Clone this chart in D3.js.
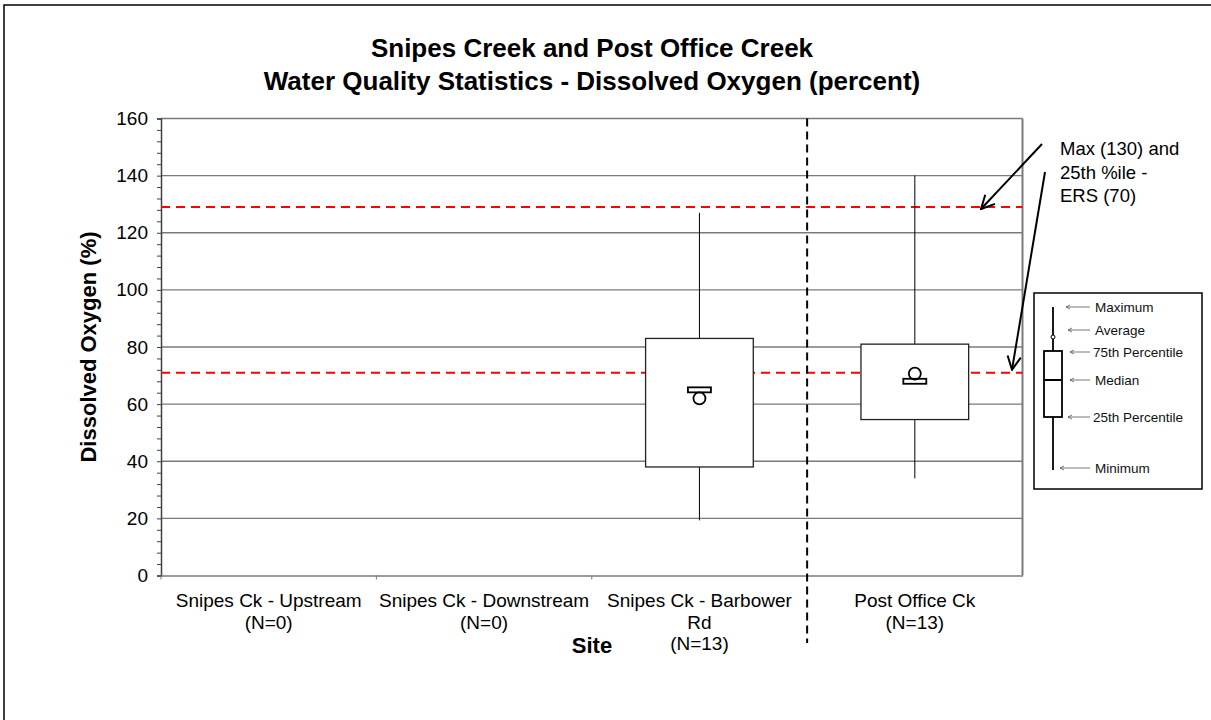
<!DOCTYPE html>
<html>
<head>
<meta charset="utf-8">
<script src="https://cdn.jsdelivr.net/npm/d3@7"></script>
<style>
  body { margin: 0; background: #fff; }
  svg { font-family: Arial, "Liberation Sans", sans-serif; }
</style>
</head>
<body>
<div id="chart"></div>
<script>
// site labels (each entry = lines of the tick label)
const sites = ["Upstream", "Downstream", "Barbower", "PostOffice"];
const siteLabels = [
  ["Snipes Ck - Upstream", "(N=0)"],
  ["Snipes Ck - Downstream", "(N=0)"],
  ["Snipes Ck - Barbower", "Rd", "(N=13)"],
  ["Post Office Ck", "(N=13)"]
];
// box statistics per site (null = no data)
const maxVals = [null, null, 127, 140];
const q3Vals = [null, null, 83, 81];
const medianVals = [null, null, 65, 68];
const meanVals = [null, null, 62, 70.7];
const q1Vals = [null, null, 38, 54.6];
const minVals = [null, null, 19.3, 34];
// reference lines
const thresholds = [129, 71];
const yTicks = [0, 20, 40, 60, 80, 100, 120, 140, 160];
const legendLabels = ["Maximum", "Average", "75th Percentile", "Median", "25th Percentile", "Minimum"];
const annotationLines = ["Max (130) and", "25th %ile -", "ERS (70)"];

const width = 1211, height = 720;
const plot = { left: 161, right: 1022.5, top: 118.5, bottom: 575.5 };

const svg = d3.select('#chart').append('svg')
  .attr('width', width)
  .attr('height', height);

// outer chart border
svg.append('rect')
  .attr('x', 4).attr('y', 5)
  .attr('width', width).attr('height', height)
  .attr('fill', 'none').attr('stroke', '#000').attr('stroke-width', 1.5);

const x = d3.scaleBand().domain(sites).range([plot.left, plot.right]).padding(0);
const y = d3.scaleLinear().domain([0, 160]).range([plot.bottom, plot.top]);

// gridlines
svg.append('g')
  .selectAll('line')
  .data(yTicks.filter(d => d > 0))
  .enter().append('line')
  .attr('x1', plot.left).attr('x2', plot.right)
  .attr('y1', d => y(d)).attr('y2', d => y(d))
  .attr('stroke', '#7a7a7a').attr('stroke-width', 1.3);

// right plot border
svg.append('line')
  .attr('x1', plot.right).attr('x2', plot.right)
  .attr('y1', plot.top).attr('y2', plot.bottom)
  .attr('stroke', '#7a7a7a').attr('stroke-width', 2);

// y axis
const yAxis = d3.axisLeft(y)
  .tickValues(d3.range(0, 161, 4))
  .tickSize(4)
  .tickFormat(d => yTicks.includes(d) ? d : '');
const yg = svg.append('g')
  .attr('transform', `translate(${plot.left},0)`)
  .call(yAxis);
yg.select('.domain').attr('stroke', '#404040').attr('stroke-width', 1.5);
yg.selectAll('.tick line').attr('stroke', '#404040');
yg.selectAll('.tick text')
  .attr('x', -13)
  .attr('font-size', 19)
  .attr('font-family', 'Arial, "Liberation Sans", sans-serif')
  .attr('fill', '#000');

// x axis
const xAxis = d3.axisBottom(x).tickSize(0).tickFormat('');
const xg = svg.append('g')
  .attr('transform', `translate(0,${plot.bottom})`)
  .call(xAxis);
xg.select('.domain').attr('stroke', '#7a7a7a').attr('stroke-width', 1.5);
xg.selectAll('.sep')
  .data([plot.left, ...sites.slice(1).map(s => x(s))])
  .enter().append('line')
  .attr('x1', d => d).attr('x2', d => d)
  .attr('y1', 0).attr('y2', 4)
  .attr('stroke', '#7a7a7a');

// x tick labels
sites.forEach((s, i) => {
  const t = svg.append('text')
    .attr('text-anchor', 'middle')
    .attr('font-size', 19)
    .attr('fill', '#000');
  siteLabels[i].forEach((line, j) => {
    t.append('tspan')
      .attr('x', x(s) + x.bandwidth() / 2)
      .attr('y', 607 + j * 21.5)
      .text(line);
  });
});

// threshold lines
svg.append('g')
  .selectAll('line')
  .data(thresholds)
  .enter().append('line')
  .attr('x1', plot.left).attr('x2', plot.right)
  .attr('y1', d => y(d)).attr('y2', d => y(d))
  .attr('stroke', '#ff0000').attr('stroke-width', 2)
  .attr('stroke-dasharray', '9,6');

// divider between creeks
svg.append('line')
  .attr('x1', x('PostOffice')).attr('x2', x('PostOffice'))
  .attr('y1', plot.top).attr('y2', 643)
  .attr('stroke', '#000').attr('stroke-width', 2)
  .attr('stroke-dasharray', '8,5');

// boxes
const boxW = x.bandwidth() * 0.5;
const boxes = sites.map((s, i) => ({
  site: s, max: maxVals[i], q3: q3Vals[i], median: medianVals[i],
  mean: meanVals[i], q1: q1Vals[i], min: minVals[i]
})).filter(d => d.max !== null);

const bg = svg.append('g').selectAll('g')
  .data(boxes)
  .enter().append('g')
  .attr('transform', d => `translate(${x(d.site) + x.bandwidth() / 2},0)`);

bg.append('line')
  .attr('x1', 0).attr('x2', 0)
  .attr('y1', d => y(d.max)).attr('y2', d => y(d.min))
  .attr('stroke', '#000').attr('stroke-width', 1);

bg.append('rect')
  .attr('x', -boxW / 2)
  .attr('y', d => y(d.q3))
  .attr('width', boxW)
  .attr('height', d => y(d.q1) - y(d.q3))
  .attr('fill', '#fff')
  .attr('stroke', '#222').attr('stroke-width', 1.3);

bg.append('rect')
  .attr('x', -11.5)
  .attr('y', d => y(d.median) - 2.5)
  .attr('width', 23).attr('height', 5)
  .attr('fill', '#fff')
  .attr('stroke', '#000').attr('stroke-width', 1.8);

bg.append('circle')
  .attr('cx', 0)
  .attr('cy', d => y(d.mean))
  .attr('r', 6)
  .attr('fill', 'none')
  .attr('stroke', '#000').attr('stroke-width', 1.8);

// titles
svg.append('text')
  .attr('x', 592).attr('y', 57)
  .attr('text-anchor', 'middle')
  .attr('font-size', 26).attr('font-weight', 'bold')
  .text('Snipes Creek and Post Office Creek');
svg.append('text')
  .attr('x', 592).attr('y', 90)
  .attr('text-anchor', 'middle')
  .attr('font-size', 26).attr('font-weight', 'bold')
  .text('Water Quality Statistics - Dissolved Oxygen (percent)');

svg.append('text')
  .attr('transform', `translate(96,${(plot.top + plot.bottom) / 2}) rotate(-90)`)
  .attr('text-anchor', 'middle')
  .attr('font-size', 22).attr('font-weight', 'bold')
  .text('Dissolved Oxygen (%)');

svg.append('text')
  .attr('x', 592).attr('y', 653)
  .attr('text-anchor', 'middle')
  .attr('font-size', 22).attr('font-weight', 'bold')
  .text('Site');

// annotation
const defs = svg.append('defs');
defs.append('marker')
  .attr('id', 'open-arrow')
  .attr('viewBox', '0 0 12 12')
  .attr('refX', 11).attr('refY', 6)
  .attr('markerWidth', 16).attr('markerHeight', 16)
  .attr('markerUnits', 'userSpaceOnUse')
  .attr('orient', 'auto')
  .append('path')
  .attr('d', 'M1,1 L11,6 L1,11')
  .attr('fill', 'none').attr('stroke', '#000').attr('stroke-width', 1.5);

const ann = svg.append('text')
  .attr('font-size', 18.5).attr('fill', '#000');
annotationLines.forEach((line, j) => {
  ann.append('tspan').attr('x', 1060).attr('y', 155 + j * 23.5).text(line);
});

svg.append('line')
  .attr('x1', 1042).attr('y1', 144)
  .attr('x2', 981).attr('y2', y(thresholds[0]) + 2)
  .attr('stroke', '#000').attr('stroke-width', 2)
  .attr('marker-end', 'url(#open-arrow)');
svg.append('line')
  .attr('x1', 1045).attr('y1', 172)
  .attr('x2', 1012).attr('y2', y(thresholds[1]) - 3)
  .attr('stroke', '#000').attr('stroke-width', 2)
  .attr('marker-end', 'url(#open-arrow)');

// legend key
const lg = svg.append('g').attr('transform', 'translate(1034,293)');
lg.append('rect')
  .attr('width', 168).attr('height', 196)
  .attr('fill', '#fff').attr('stroke', '#000').attr('stroke-width', 1.5);
lg.append('line')
  .attr('x1', 19).attr('x2', 19).attr('y1', 14).attr('y2', 177)
  .attr('stroke', '#000').attr('stroke-width', 1.8);
lg.append('rect')
  .attr('x', 10).attr('y', 58).attr('width', 18).attr('height', 66)
  .attr('fill', '#fff').attr('stroke', '#000').attr('stroke-width', 1.8);
lg.append('line')
  .attr('x1', 11).attr('x2', 27).attr('y1', 87).attr('y2', 87)
  .attr('stroke', '#000').attr('stroke-width', 2);
lg.append('circle')
  .attr('cx', 19).attr('cy', 44).attr('r', 2)
  .attr('fill', '#fff').attr('stroke', '#000');

const legendY = [14, 37, 59, 87, 124, 175];
const legendX = [32, 34, 36, 36, 34, 26];
legendLabels.forEach((lab, i) => {
  const yy = legendY[i];
  lg.append('line')
    .attr('x1', legendX[i]).attr('x2', 56)
    .attr('y1', yy).attr('y2', yy)
    .attr('stroke', '#555').attr('stroke-width', 0.8);
  lg.append('path')
    .attr('d', `M${legendX[i] + 4},${yy - 2} L${legendX[i]},${yy} L${legendX[i] + 4},${yy + 2}`)
    .attr('fill', 'none').attr('stroke', '#555').attr('stroke-width', 0.8);
  lg.append('text')
    .attr('x', i === 2 || i === 4 ? 59 : 61)
    .attr('y', yy + 4.5)
    .attr('font-size', 13.5)
    .attr('fill', '#111')
    .text(lab);
});
</script>
</body>
</html>
